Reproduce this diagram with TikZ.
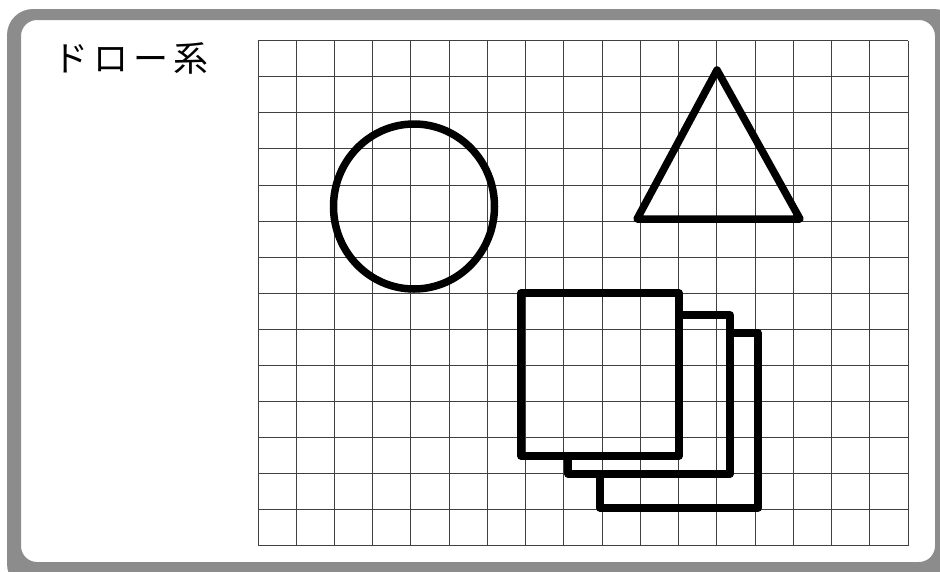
\documentclass[tikz,border=0pt]{standalone}
\usepackage{fontspec}
\newfontfamily\jpfont{Noto Sans CJK JP}
\begin{document}
\begin{tikzpicture}[x=1pt,y=-1pt,
  gridline/.style={draw=black!75,line width=0.9pt},
  shapeline/.style={draw=black,line width=7.5pt,line join=round,line cap=round},
  framefill/.style={fill=black!45}]
\useasboundingbox (0,0) rectangle (940,571);
% frame
\path[framefill,even odd rule]
  (7,9) [rounded corners=26pt] -- (960,9) -- (960,590) -- (7,590) -- cycle
  [sharp corners] (21,20) [rounded corners=16pt] -- (935,20) -- (935,562) -- (21,562) -- cycle;
% title
\node[anchor=west,inner sep=0pt,font=\jpfont\fontsize{35}{35}\selectfont] (title) at (53,58)
  {ド\kern5ptロ\kern5ptー\kern5pt系};
% grid
\foreach \i in {0,...,17}{
  \draw[gridline] ({258+\i*650/17},40.7) -- ({258+\i*650/17},545.7);
}
\foreach \j in {0,...,14}{
  \draw[gridline] (258,{40.7+\j*505/14}) -- (908,{40.7+\j*505/14});
}
% circle
\draw[shapeline] (414,206.5) ellipse [x radius=80.5, y radius=82.5];
% triangle
\draw[shapeline] (717,70) -- (800,219) -- (637,219) -- cycle;
% stacked squares (back ones partly hidden)
\draw[shapeline] (730,333) -- (758,333) -- (758,508) -- (600,508) -- (600,474);
\draw[shapeline] (679,315) -- (730,315) -- (730,474) -- (568,474) -- (568,456);
\draw[shapeline] (521,293) rectangle (679,456);
\end{tikzpicture}
\end{document}
